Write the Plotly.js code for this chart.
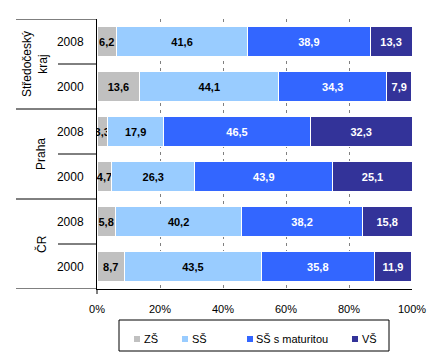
<!DOCTYPE html>
<html>
<head>
<meta charset="utf-8">
<script src="https://cdn.plot.ly/plotly-3.0.1.min.js"></script>
<style>html,body{margin:0;padding:0;background:#fff;}#chart{width:442px;height:361px;}</style>
</head>
<body>
<div id="chart"></div>
<script>
// Data (rows from top to bottom)
const groups = ['Středočeský<br>kraj', 'Praha', 'ČR'];
const rowGroup = [0, 0, 1, 1, 2, 2];
const years = ['2008', '2000', '2008', '2000', '2008', '2000'];
const seriesNames = ['ZŠ', 'SŠ', 'SŠ s maturitou', 'VŠ'];
const zs = [6.2, 13.6, 3.3, 4.7, 5.8, 8.7];
const ss = [41.6, 44.1, 17.9, 26.3, 40.2, 43.5];
const ssm = [38.9, 34.3, 46.5, 43.9, 38.2, 35.8];
const vs = [13.3, 7.9, 32.3, 25.1, 15.8, 11.9];
const xTicks = [0, 20, 40, 60, 80, 100];

const colors = ['#C0C0C0', '#99CCFF', '#3366FF', '#333399'];
const textColors = ['#000000', '#000000', '#FFFFFF', '#FFFFFF'];
const seriesValues = [zs, ss, ssm, vs];
const rowIdx = years.map((_, i) => i);
const FONT = 'Liberation Sans, Arial, sans-serif';

const traces = seriesValues.map((vals, k) => ({
  type: 'bar',
  orientation: 'h',
  name: seriesNames[k],
  x: vals,
  y: rowIdx,
  marker: {color: colors[k], line: {color: '#FFFFFF', width: 1}},
  texttemplate: '%{x:.1f}',
  textposition: 'inside',
  insidetextanchor: 'middle',
  textangle: 0,
  constraintext: 'none',
  textfont: {family: FONT, size: 11, color: textColors[k], weight: 'bold'},
  hoverinfo: 'skip',
  showlegend: false
}));

// Layout helpers: plot area in pixels for conversion of legend decoration
const L = 97, T = 19, W = 315, H = 270;
const px = v => (v - L) / W;
const py = v => (T + H - v) / H;

const shapes = [];
const annotations = [];

// group separators & inner separators
const nRows = years.length;
for (let i = 0; i <= nRows; i++) {
  const yv = i - 0.5;
  const isGroupEdge = (i === 0 || i === nRows || rowGroup[i] !== rowGroup[i - 1]);
  shapes.push({type: 'line', xref: 'paper', yref: 'y', x0: isGroupEdge ? px(16) : px(58), x1: 0,
    y0: yv, y1: yv, line: {color: '#000000', width: 1}});
}
// small end ticks on the value axis
shapes.push({type: 'line', xref: 'paper', yref: 'paper', x0: 0, x1: 0, y0: 0, y1: py(294),
  line: {color: '#000000', width: 1}});
// group labels
groups.forEach((g, gi) => {
  const rows = rowIdx.filter(r => rowGroup[r] === gi);
  const center = (rows[0] + rows[rows.length - 1]) / 2;
  annotations.push({xref: 'paper', yref: 'y', x: g.includes('<br>') ? px(35) : px(41), y: center,
    text: g, showarrow: false, textangle: -90, xanchor: 'center', yanchor: 'middle',
    font: {family: FONT, size: 12, color: '#000000'}});
});

// Legend (manual, to match compact Excel legend)
shapes.push({type: 'rect', xref: 'paper', yref: 'paper', x0: px(119), x1: px(389), y0: py(351), y1: py(320),
  line: {color: '#000000', width: 1}, fillcolor: 'rgba(0,0,0,0)'});
const legSq = [134, 182, 247, 352];
const legTx = [142, 190, 254, 360];
seriesNames.forEach((n, k) => {
  shapes.push({type: 'rect', xref: 'paper', yref: 'paper', x0: px(legSq[k]), x1: px(legSq[k] + 6),
    y0: py(342), y1: py(336), line: {width: 0}, fillcolor: colors[k]});
  annotations.push({xref: 'paper', yref: 'paper', x: px(legTx[k]), y: py(339), text: n, showarrow: false,
    xanchor: 'left', yanchor: 'middle', font: {family: FONT, size: 11, color: '#000000'}});
});

const layout = {
  width: 442, height: 361,
  margin: {l: L, r: 442 - L - W, t: T, b: 361 - T - H, pad: 0},
  paper_bgcolor: '#FFFFFF', plot_bgcolor: '#FFFFFF',
  barmode: 'stack', bargap: 0.35,
  separators: ', ',
  showlegend: false,
  font: {family: FONT, size: 11, color: '#000000'},
  xaxis: {
    range: [0, 100], tickvals: xTicks, ticktext: xTicks.map(v => v + '%'),
    showgrid: true, gridcolor: '#808080', griddash: '3px,4px', gridwidth: 1,
    zeroline: false, showline: true, linecolor: '#000000', linewidth: 1,
    ticks: '', ticklabelstandoff: 10,
    tickfont: {family: FONT, size: 11, color: '#000000'}, fixedrange: true
  },
  yaxis: {
    range: [nRows - 0.5, -0.5], tickvals: rowIdx, ticktext: years,
    showgrid: false, zeroline: false, showline: true, linecolor: '#000000', linewidth: 1,
    ticks: '', ticklabelstandoff: 10,
    tickfont: {family: FONT, size: 12, color: '#000000'}, fixedrange: true
  },
  shapes: shapes,
  annotations: annotations
};

Plotly.newPlot('chart', traces, layout, {displayModeBar: false, staticPlot: true});
</script>
</body>
</html>
